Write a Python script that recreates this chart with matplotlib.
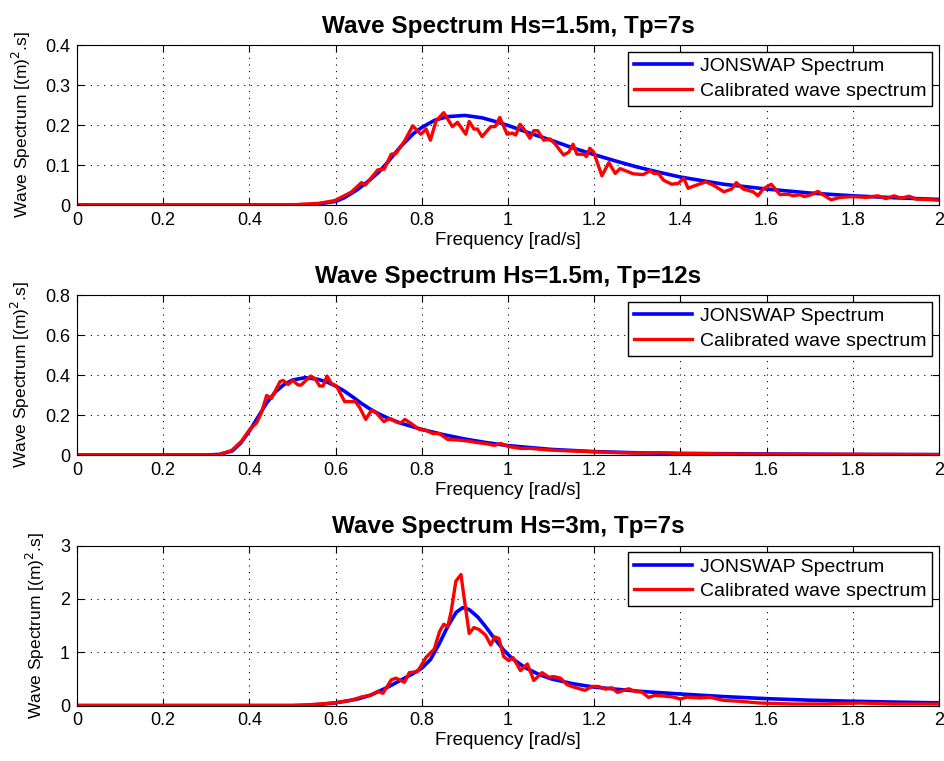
import numpy as np
import matplotlib
matplotlib.use("Agg")
import matplotlib.pyplot as plt

plt.rcParams["font.family"] = ["Liberation Sans", "DejaVu Sans"]

# ── panel 1: Hs=1.5m, Tp=7s ──────────────────────────────────────────────────
f_jon1 = [0, 0.5, 0.55, 0.6, 0.62, 0.65, 0.68, 0.7, 0.72, 0.75, 0.78, 0.8,
          0.83, 0.86, 0.9, 0.94, 0.97, 1.0, 1.05, 1.1, 1.15, 1.2, 1.25, 1.3,
          1.35, 1.4, 1.5, 1.6, 1.7, 1.8, 1.9, 2.0]
s_jon1 = [0, 0, 0.001, 0.009, 0.018, 0.038, 0.063, 0.082, 0.106, 0.145,
          0.178, 0.194, 0.212, 0.221, 0.224, 0.218, 0.209, 0.199, 0.18, 0.162,
          0.143, 0.126, 0.11, 0.095, 0.082, 0.07, 0.052, 0.04, 0.03, 0.023,
          0.018, 0.014]

f_cal1 = [0, 0.5, 0.521, 0.56, 0.598, 0.636, 0.66, 0.669, 0.698, 0.713, 0.729,
          0.74, 0.76, 0.779, 0.798, 0.81, 0.82, 0.833, 0.851, 0.871, 0.883,
          0.902, 0.91, 0.921, 0.929, 0.94, 0.96, 0.97, 0.981, 0.998, 1.01,
          1.018, 1.028, 1.037, 1.051, 1.06, 1.069, 1.083, 1.098, 1.11, 1.129,
          1.141, 1.151, 1.16, 1.176, 1.182, 1.19, 1.199, 1.218, 1.234, 1.249,
          1.26, 1.291, 1.314, 1.33, 1.338, 1.349, 1.361, 1.38, 1.395, 1.408,
          1.418, 1.438, 1.459, 1.476, 1.501, 1.519, 1.53, 1.546, 1.569, 1.58,
          1.592, 1.611, 1.631, 1.65, 1.662, 1.677, 1.688, 1.704, 1.719, 1.735,
          1.75, 1.77, 1.8, 1.831, 1.858, 1.877, 1.896, 1.912, 1.931, 1.946,
          1.985, 2.0]
s_cal1 = [0, 0, 0.002, 0.004, 0.011, 0.032, 0.056, 0.05, 0.088, 0.09, 0.127,
          0.129, 0.16, 0.198, 0.177, 0.19, 0.162, 0.21, 0.231, 0.196, 0.207,
          0.177, 0.209, 0.19, 0.19, 0.171, 0.196, 0.196, 0.219, 0.177, 0.18,
          0.175, 0.202, 0.19, 0.167, 0.186, 0.186, 0.162, 0.165, 0.152, 0.125,
          0.132, 0.152, 0.127, 0.127, 0.121, 0.142, 0.132, 0.073, 0.106, 0.079,
          0.091, 0.078, 0.076, 0.086, 0.079, 0.079, 0.062, 0.052, 0.054, 0.067,
          0.042, 0.05, 0.058, 0.05, 0.033, 0.04, 0.056, 0.04, 0.033, 0.023,
          0.04, 0.052, 0.026, 0.027, 0.023, 0.026, 0.021, 0.026, 0.034, 0.023,
          0.013, 0.019, 0.021, 0.019, 0.023, 0.016, 0.023, 0.017, 0.022, 0.015,
          0.013, 0.012]

# ── panel 2: Hs=1.5m, Tp=12s ─────────────────────────────────────────────────
f_jon2 = [0, 0.3, 0.33, 0.36, 0.38, 0.4, 0.42, 0.44, 0.46, 0.48, 0.5, 0.53,
          0.56, 0.58, 0.6, 0.62, 0.64, 0.66, 0.68, 0.7, 0.72, 0.75, 0.8, 0.85,
          0.9, 0.95, 1.0, 1.1, 1.2, 1.3, 1.4, 1.6, 1.8, 2.0]
s_jon2 = [0, 0, 0.003, 0.02, 0.06, 0.12, 0.19, 0.26, 0.315, 0.352, 0.375,
          0.387, 0.378, 0.365, 0.345, 0.32, 0.29, 0.258, 0.23, 0.206, 0.186,
          0.16, 0.128, 0.102, 0.08, 0.062, 0.047, 0.028, 0.017, 0.011, 0.008,
          0.005, 0.003, 0.002]

f_cal2 = [0, 0.289, 0.328, 0.359, 0.382, 0.401, 0.417, 0.428, 0.44, 0.451,
          0.471, 0.478, 0.49, 0.501, 0.513, 0.52, 0.542, 0.552, 0.563, 0.571,
          0.58, 0.59, 0.602, 0.621, 0.646, 0.656, 0.67, 0.683, 0.694, 0.712,
          0.725, 0.744, 0.752, 0.761, 0.775, 0.794, 0.81, 0.825, 0.841, 0.86,
          0.883, 0.906, 0.929, 0.949, 0.968, 0.983, 1.002, 1.029, 1.052, 1.095,
          1.15, 1.2, 1.25, 1.3, 1.35, 1.4, 1.45, 1.5, 1.6, 1.8, 2.0]
s_cal2 = [0, 0, 0, 0.023, 0.07, 0.128, 0.162, 0.212, 0.298, 0.283, 0.367,
          0.373, 0.353, 0.373, 0.35, 0.35, 0.395, 0.383, 0.345, 0.345, 0.395,
          0.358, 0.345, 0.267, 0.267, 0.237, 0.178, 0.223, 0.212, 0.167, 0.182,
          0.162, 0.162, 0.178, 0.158, 0.128, 0.123, 0.108, 0.107, 0.078, 0.075,
          0.07, 0.062, 0.057, 0.048, 0.058, 0.042, 0.033, 0.033, 0.025, 0.02,
          0.016, 0.012, 0.01, 0.012, 0.007, 0.007, 0.005, 0.004, 0.003, 0.002]

# ── panel 3: Hs=3m, Tp=7s ────────────────────────────────────────────────────
f_jon3 = [0, 0.5, 0.55, 0.6, 0.65, 0.68, 0.72, 0.75, 0.78, 0.8, 0.82, 0.84,
          0.86, 0.88, 0.895, 0.91, 0.93, 0.95, 0.97, 0.99, 1.01, 1.04, 1.07,
          1.1, 1.15, 1.2, 1.3, 1.4, 1.5, 1.6, 1.7, 1.8, 1.9, 2.0]
s_jon3 = [0, 0, 0.01, 0.05, 0.12, 0.19, 0.34, 0.47, 0.6, 0.7, 0.86, 1.15,
          1.48, 1.75, 1.835, 1.8, 1.66, 1.46, 1.24, 1.04, 0.88, 0.71, 0.59,
          0.5, 0.41, 0.345, 0.27, 0.216, 0.168, 0.129, 0.1, 0.08, 0.064, 0.05]

f_cal3 = [0, 0.5, 0.521, 0.598, 0.636, 0.66, 0.683, 0.698, 0.71, 0.729, 0.74,
          0.76, 0.771, 0.79, 0.81, 0.829, 0.841, 0.851, 0.86, 0.868, 0.879,
          0.891, 0.898, 0.91, 0.921, 0.933, 0.948, 0.96, 0.969, 0.979, 0.99,
          1.002, 1.012, 1.029, 1.045, 1.06, 1.079, 1.095, 1.106, 1.122, 1.137,
          1.153, 1.179, 1.195, 1.21, 1.226, 1.241, 1.254, 1.28, 1.295, 1.311,
          1.326, 1.341, 1.361, 1.384, 1.4, 1.415, 1.446, 1.469, 1.5, 1.538,
          1.584, 1.661, 1.739, 1.816, 1.893, 2.0]
s_cal3 = [0, 0, 0.005, 0.05, 0.097, 0.16, 0.2, 0.264, 0.23, 0.48, 0.513,
          0.437, 0.617, 0.636, 0.904, 1.059, 1.382, 1.525, 1.475, 1.755, 2.33,
          2.456, 2.034, 1.351, 1.462, 1.425, 1.32, 1.134, 1.289, 1.258, 0.917,
          0.842, 0.898, 0.655, 0.779, 0.469, 0.617, 0.53, 0.543, 0.513, 0.39,
          0.345, 0.284, 0.358, 0.358, 0.308, 0.333, 0.246, 0.314, 0.265, 0.252,
          0.153, 0.19, 0.178, 0.159, 0.122, 0.159, 0.141, 0.153, 0.097, 0.079,
          0.047, 0.028, 0.028, 0.047, 0.028, 0.028]

titles = ["Wave Spectrum Hs=1.5m, Tp=7s",
          "Wave Spectrum Hs=1.5m, Tp=12s",
          "Wave Spectrum Hs=3m, Tp=7s"]
y_ticks = [[0, 0.1, 0.2, 0.3, 0.4],
           [0, 0.2, 0.4, 0.6, 0.8],
           [0, 1, 2, 3]]
x_ticks = [0, 0.2, 0.4, 0.6, 0.8, 1, 1.2, 1.4, 1.6, 1.8, 2]

panels = [(f_jon1, s_jon1, f_cal1, s_cal1),
          (f_jon2, s_jon2, f_cal2, s_cal2),
          (f_jon3, s_jon3, f_cal3, s_cal3)]
bottoms = [0.7306, 0.4021, 0.0729]

fig = plt.figure(figsize=(9.44, 7.61), dpi=100)
for k, (fj, sj, fc, sc) in enumerate(panels):
    ax = fig.add_axes([0.0816, bottoms[k], 0.913, 0.2102])
    ax.plot(fj, sj, color="blue", lw=2.6, label="JONSWAP Spectrum")
    ax.plot(fc, sc, color="red", lw=2.4, label="Calibrated wave spectrum")
    ax.set_xlim(0, 2)
    ax.set_ylim(y_ticks[k][0], y_ticks[k][-1])
    ax.set_xticks(x_ticks)
    ax.set_xticklabels([f"{t:g}" for t in x_ticks])
    ax.set_yticks(y_ticks[k])
    ax.set_yticklabels([f"{t:g}" for t in y_ticks[k]])
    ax.tick_params(direction="in", top=True, right=True, labelsize=13,
                   length=5, pad=5)
    ax.grid(True, ls=(0, (1, 5)), color="black", lw=0.8)
    ax.set_xlabel("Frequency [rad/s]", fontsize=13.5, labelpad=2)
    ax.set_ylabel("Wave Spectrum [(m)$^2$.s]", fontsize=12.5, labelpad=9)
    ax.set_title(titles[k], fontsize=17.5, fontweight="bold", pad=9)
    leg = ax.legend(loc="upper right", fontsize=14, fancybox=False,
                    framealpha=1, edgecolor="black", handlelength=3.0,
                    handletextpad=0.4, borderaxespad=0.35, labelspacing=0.35,
                    borderpad=0.3)
    leg.get_frame().set_linewidth(1.0)

fig.savefig("out.png", dpi=100)
